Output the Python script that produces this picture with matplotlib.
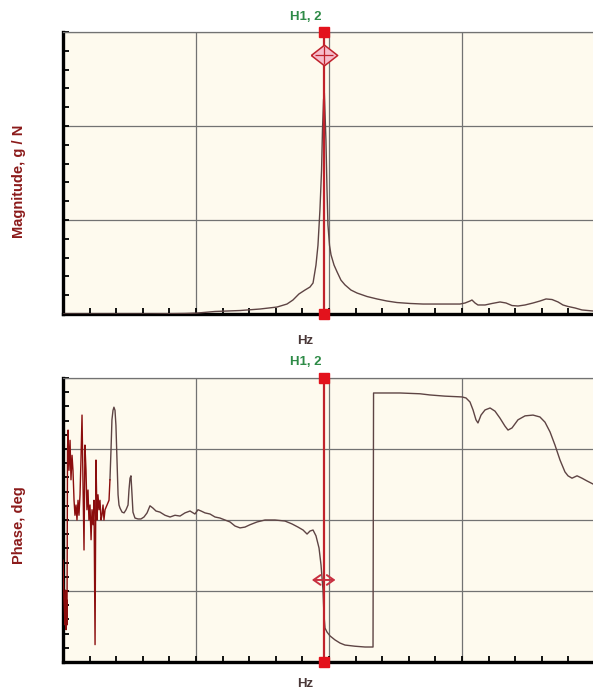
import matplotlib
matplotlib.use("Agg")
import matplotlib.pyplot as plt
from matplotlib.transforms import offset_copy

# ---------------- data ----------------
mag_freq = [0, 27.8, 65.4, 91.7, 100.8, 114.3, 133.1, 148.1, 160.9, 168.4, 172.9, 177.4,
            181.95, 185.7, 188.0, 190.2, 191.7, 193.2, 194.4, 195.1, 195.9, 196.5,
            197.7, 198.5, 199.2, 200.4, 201.5, 203.8, 206.0, 209.0, 212.0, 216.5,
            221.1, 228.6, 236.1, 243.6, 251.1, 260.9, 270.7, 283.5, 298.5, 302.3,
            306.0, 307.5, 309.8, 312.0, 317.3, 322.6, 328.6, 333.1, 337.6, 342.1,
            347.4, 353.4, 358.6, 363.2, 367.7, 372.2, 375.9, 379.7, 385.0, 390.2, 398.5]
mag_val = [0, 0, 0, 0.005, 0.01, 0.027, 0.037, 0.053, 0.074, 0.106, 0.149, 0.213,
           0.255, 0.287, 0.33, 0.52, 0.73, 1.11, 1.53, 1.96, 2.28, 2.35,
           1.85, 1.32, 0.95, 0.73, 0.63, 0.52, 0.45, 0.36, 0.31, 0.255,
           0.223, 0.186, 0.16, 0.138, 0.122, 0.112, 0.106, 0.106, 0.106, 0.117,
           0.138, 0.149, 0.117, 0.096, 0.096, 0.112, 0.128, 0.117, 0.09, 0.085,
           0.096, 0.117, 0.138, 0.16, 0.154, 0.128, 0.096, 0.08, 0.064, 0.043, 0.032]

# noisy low-frequency part of the phase (drawn dark red)
phase_noise_freq = [0, 0.75, 1.5, 1.9, 2.3, 2.6, 3.0, 3.4, 3.8, 4.5, 5.3, 6.0, 6.8, 7.5,
                    8.3, 9.0, 9.8, 10.5, 11.3, 12.0, 12.8, 13.5, 14.3, 15.0, 15.8, 16.5,
                    17.3, 18.0, 18.8, 19.5, 20.3, 21.1, 21.8, 22.6, 23.3, 24.1, 24.8,
                    25.6, 26.3, 27.1, 27.8, 28.6, 29.3, 30.1, 30.8, 31.6, 33.1, 34.6, 35.3]
phase_noise_deg = [-51, -101, -133, -89, -139, -101, -133, 89, 114, 63, 101, 51, 82, 63,
                   25, 6, 19, 0, 25, 6, 32, 76, 133, 51, -38, 95,
                   63, 13, 38, 0, 19, -25, 13, -6, 25, -158, 76,
                   0, 32, 13, 25, 0, 6, 19, 0, 13, 19, 25, 51]

phase_freq = [35.3, 36.1, 36.8, 37.6, 38.3, 39.1, 39.8, 40.6, 41.4, 42.1, 42.9, 44.4,
              45.9, 47.4, 48.9, 49.6, 50.4, 51.1, 51.9, 52.6, 54.1, 56.4, 58.6, 60.9,
              63.2, 65.4, 67.7, 69.9, 72.9, 76.7, 80.5, 84.2, 88.0, 91.7, 95.5, 99.2,
              101.5, 103.8, 106.8, 110.5, 114.3, 118.0, 121.8, 125.6, 129.3, 133.1,
              136.8, 140.6, 145.9, 151.9, 159.4, 166.9, 172.2, 176.7, 180.5, 183.5,
              185.7, 188.0, 190.2, 192.5, 194.0, 195.5, 196.2, 197.0, 198.5, 200.8,
              204.5, 208.3, 212.0, 219.5, 227.1, 233.1, 233.5, 238.3, 245.9, 253.4,
              260.9, 268.4, 275.9, 287.2, 300.0, 303.0, 306.0, 308.3, 310.5, 312.0,
              314.3, 317.3, 321.1, 324.8, 328.6, 332.3, 334.6, 337.6, 342.1, 347.4,
              353.4, 358.6, 362.4, 366.2, 369.9, 373.7, 377.4, 379.7, 382.7, 386.5,
              390.2, 394.0, 398.5]
phase_deg = [51, 89, 127, 139, 143, 139, 120, 76, 32, 19, 15, 10,
             9, 13, 19, 38, 53, 56, 32, 10, 2.5, 1.3, 1.3, 3.8,
             9, 18, 15, 11.4, 10, 6, 3.8, 6, 5, 9, 11.4, 7.6,
             13, 11.4, 9, 7.6, 3.8, 2.5, 0, -2.5, -7.6, -10,
             -9, -6, -2.5, 0, 0, -1.3, -5, -9, -12.7, -17.8,
             -14, -12.7, -20, -35.5, -57, -89, -120, -137, -142, -147,
             -152, -156, -158.5, -160, -161, -161, 161, 161, 161, 161,
             160.5, 160, 158.5, 157, 156, 154.7, 149.6, 139.5, 127, 123,
             133, 139.5, 142, 138, 129, 119, 114, 116.7, 127, 132,
             133, 130.6, 124, 111.6, 95, 76, 61, 56, 53, 56,
             53, 49.5, 45.6]

cursor_freq = 196.0
cursor_mag = 2.755
cursor_phase = -76.0
cursor_label = "H1, 2"
x_label = "Hz"
mag_label = "Magnitude, g / N"
phase_label = "Phase, deg"

# ---------------- style ----------------
W, H = 593, 692
BG = "#fefaee"
TRACE = "#5e4444"
NOISE = "#8b0d0d"
GRID = "#727272"
RED = "#e3121c"
CURSOR = "#c0222c"
LABEL_RED = "#8b1a1a"
GREEN = "#2e8b47"

fig = plt.figure(figsize=(W / 100, H / 100), dpi=100)
fig.patch.set_facecolor("white")

def px_axes(left, top, right, bottom):
    return fig.add_axes([left / W, 1 - bottom / H, (right - left) / W, (bottom - top) / H])

ax1 = px_axes(63, 32, 595, 314)
ax2 = px_axes(63, 378, 595, 662)

for ax, ylim, ymaj, ymin in [(ax1, (0, 3), 1, 0.2), (ax2, (-180, 180), 90, 18)]:
    ax.set_facecolor(BG)
    ax.set_xlim(0, 400)
    ax.set_ylim(*ylim)
    ax.xaxis.set_major_locator(matplotlib.ticker.MultipleLocator(100))
    ax.xaxis.set_minor_locator(matplotlib.ticker.MultipleLocator(20))
    ax.yaxis.set_major_locator(matplotlib.ticker.MultipleLocator(ymaj))
    ax.yaxis.set_minor_locator(matplotlib.ticker.MultipleLocator(ymin))
    ax.grid(True, which="major", color=GRID, lw=0.9)
    ax.tick_params(which="both", direction="in", length=4.5, width=1.3, color="black",
                   labelbottom=False, labelleft=False, top=False, right=False)
    for s in ("left", "bottom"):
        ax.spines[s].set_linewidth(2.4)
        ax.spines[s].set_color("black")
    ax.spines["top"].set_color(GRID)
    ax.spines["top"].set_linewidth(0.9)
    ax.spines["right"].set_visible(False)
    ax.set_axisbelow(True)

# magnitude trace
ax1.plot(mag_freq, mag_val, color=TRACE, lw=1.0, zorder=3)

# phase traces
ax2.plot(phase_freq, phase_deg, color=TRACE, lw=1.0, zorder=3)
ax2.plot(phase_noise_freq, phase_noise_deg, color=NOISE, lw=1.0, zorder=3)

# cursor
for ax in (ax1, ax2):
    ax.axvline(cursor_freq, color=CURSOR, lw=1.6, zorder=4)
    y0, y1 = ax.get_ylim()
    ax.plot([cursor_freq, cursor_freq], [y0, y1], ls="none", marker="s", ms=6.5,
            color=RED, clip_on=False, zorder=6)

diamond = [(-1.15, 0), (0, 0.9), (1.15, 0), (0, -0.9), (-1.15, 0)]
ax1.plot(cursor_freq, cursor_mag, marker=diamond, ms=19, mfc="#f6bccb", mec=CURSOR,
         mew=1.1, zorder=5, ls="none")
ax1.plot(cursor_freq, cursor_mag, marker="+", ms=13, mec=CURSOR, mew=0.9, zorder=6, ls="none")

left_tr = offset_copy(ax2.transData, fig=fig, x=-8.5, y=0, units="points")
right_tr = offset_copy(ax2.transData, fig=fig, x=8.5, y=0, units="points")
ax2.annotate("", xy=(cursor_freq, cursor_phase), xycoords=left_tr,
             xytext=(cursor_freq, cursor_phase), textcoords=right_tr,
             arrowprops=dict(arrowstyle="<->,head_length=0.5,head_width=0.35",
                             color="#c83040", lw=1.4, shrinkA=0, shrinkB=0),
             zorder=6)

# texts
font = dict(family=["Liberation Sans", "DejaVu Sans"], weight="bold")
for ytop, yhz in [(17, 341), (362, 684)]:
    fig.text(306 / W, 1 - ytop / H, cursor_label, color=GREEN, fontsize=9.5,
             ha="center", va="center", **font)
    fig.text(305 / W, 1 - yhz / H, x_label, color="#4a3838", fontsize=9.5,
             ha="center", va="center", **font)

fig.text(19 / W, 1 - 181 / H, mag_label, color=LABEL_RED, fontsize=10.5, rotation=90,
         ha="center", va="center", **font)
fig.text(19 / W, 1 - 525 / H, phase_label, color=LABEL_RED, fontsize=10.5, rotation=90,
         ha="center", va="center", **font)

fig.savefig("out.png", dpi=100, facecolor="white")
